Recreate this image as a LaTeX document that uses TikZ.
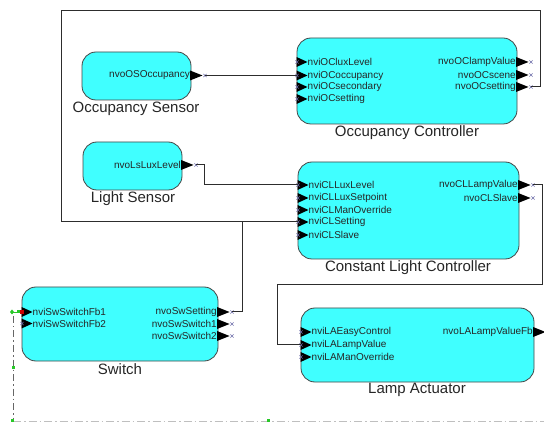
\documentclass[tikz,border=0pt]{standalone}
\usepackage{fontspec}
\setmainfont{Liberation Sans}
\definecolor{boxfill}{RGB}{64,255,255}
\definecolor{boxline}{RGB}{70,70,70}
\definecolor{wire}{RGB}{45,45,45}
\definecolor{xcol}{RGB}{110,110,170}
\definecolor{gdot}{RGB}{40,200,40}
\tikzset{
  box/.style={draw=boxline, fill=boxfill, rounded corners=14pt, line width=0.8pt, inner sep=0pt},
  portlbl/.style={inner sep=0pt, font=\fontsize{10}{11}\selectfont, text=black!85},
  title/.style={inner sep=0pt, font=\fontsize{15}{17}\selectfont, text=black!85},
  arrowfill/.style={fill=black},
  xmark/.style={draw=xcol, line width=0.5pt},
  wireline/.style={draw=wire, line width=1pt},
}
\newcommand\inport[4]{%
  \fill[arrowfill] (#2-0.5,#3-5) -- (#2+10.5,#3) -- (#2-0.5,#3+5) -- cycle;
  \node[portlbl, anchor=west] (#1-l) at (#2+10.5,#3) {#4};
  \draw[xmark] (#2-1.6,#3-1.6) -- (#2+1.6,#3+1.6) (#2-1.6,#3+1.6) -- (#2+1.6,#3-1.6);
  \coordinate (#1) at (#2,#3);
}
\newcommand\outport[4]{%
  \fill[arrowfill] (#2-1,#3-5) -- (#2+11.5,#3) -- (#2-1,#3+5) -- cycle;
  \node[portlbl, anchor=east] (#1-l) at (#2-1,#3) {#4};
  \draw[xmark] (#2+12.4,#3-1.6) -- (#2+15.6,#3+1.6) (#2+12.4,#3+1.6) -- (#2+15.6,#3-1.6);
  \coordinate (#1) at (#2+14,#3);
}
\begin{document}
\begin{tikzpicture}[x=1pt,y=-1pt]
\clip (0,0) rectangle (544,422);
\fill[white] (0,0) rectangle (544,422);

% boxes
\node[box, minimum width=109pt, minimum height=48pt] (os) at (136.5,76) {};
\node[box, minimum width=220pt, minimum height=86pt] (oc) at (407,81) {};
\node[box, minimum width=99pt, minimum height=48pt] (ls) at (132.5,166) {};
\node[box, minimum width=221pt, minimum height=97pt] (cl) at (408.5,210.5) {};
\node[box, minimum width=196pt, minimum height=74pt] (sw) at (120,324) {};
\node[box, minimum width=233pt, minimum height=74pt] (la) at (417.5,345) {};

% titles
\node[title] (os-t) at (136,109) {Occupancy Sensor};
\node[title] (oc-t) at (407,133) {Occupancy Controller};
\node[title] (ls-t) at (133,199) {Light Sensor};
\node[title] (cl-t) at (408,268) {Constant Light Controller};
\node[title] (sw-t) at (120,369) {Switch};
\node[title] (la-t) at (417,390) {Lamp Actuator};

% ports
\outport{osout}{191}{75.5}{nvoOSOccupancy}
\inport{ocin1}{297}{62}{nviOCluxLevel}
\inport{ocin2}{297}{75.5}{nviOCoccupancy}
\inport{ocin3}{297}{87}{nviOCsecondary}
\inport{ocin4}{297}{99}{nviOCsetting}
\outport{ocout1}{517}{62}{nvoOClampValue}
\outport{ocout2}{517}{75}{nvoOCscene}
\outport{ocout3}{517}{87}{nvoOCsetting}

\outport{lsout}{182}{165}{nvoLsLuxLevel}
\inport{clin1}{298}{185}{nviCLLuxLevel}
\inport{clin2}{298}{198}{nviCLLuxSetpoint}
\inport{clin3}{298}{210}{nviCLManOverride}
\inport{clin4}{298}{222}{nviCLSetting}
\inport{clin5}{298}{235}{nviCLSlave}
\outport{clout1}{519}{185}{nvoCLLampValue}
\outport{clout2}{519}{198}{nvoCLSlave}

\inport{swin1}{22}{312}{nviSwSwitchFb1}
\inport{swin2}{22}{323.5}{nviSwSwitchFb2}
\outport{swout1}{218}{312}{nvoSwSetting}
\outport{swout2}{218}{324}{nvoSwSwitch1}
\outport{swout3}{218}{336}{nvoSwSwitch2}

\inport{lain1}{301}{332}{nviLAEasyControl}
\inport{lain2}{301}{345}{nviLALampValue}
\inport{lain3}{301}{357}{nviLAManOverride}
\outport{laout1}{534}{332}{nvoLALampValueFb}

% connectors
\coordinate (j1) at (242,222);
\draw[wireline] (osout) -- (ocin2);
\draw[wireline] (ocout3) -- (540,87) -- (540,11) -- (61,11) -- (61,222) -- (clin4);
\draw[wireline] (swout1) -- (242,312) -- (j1);
\draw[wireline] (lsout) -- (204,165) -- (204,185) -- (clin1);
\draw[wireline] (clout1) -- (542,185) -- (542,285) -- (277,285) -- (277,345) -- (lain2);

% dash-dot guide lines and markers
\draw[black!60, line width=1pt, dash pattern=on 7pt off 3pt on 1.5pt off 3pt] (13,316) -- (13,422);
\draw[black!25, line width=1pt, dash pattern=on 8pt off 3pt on 1.5pt off 3pt] (13,421) -- (544,421);
\fill[gdot] (12,309.5) -- (14,312) -- (12,314.5) -- (10,312) -- cycle;
\draw[gdot, line width=0.8pt] (12,312) -- (19,312);
\fill[gdot] (16.5,310.5) rectangle (19.5,313.5);
\fill[red!80!black] (20,310) rectangle (24,314);
\fill[gdot] (11.5,365.5) rectangle (14.5,368.5);
\fill[gdot] (11,419) rectangle (14,422);
\fill[gdot] (267,419) rectangle (270,422);
\end{tikzpicture}
\end{document}
